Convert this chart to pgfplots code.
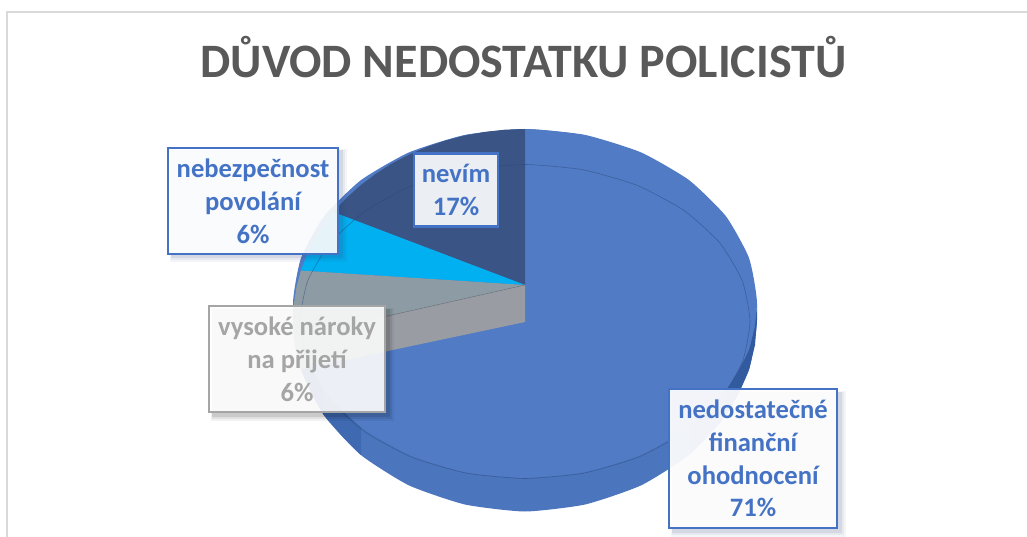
\documentclass[border=0pt]{standalone}
\usepackage{fontspec}
\setmainfont{Carlito}
\usepackage{pgfplots}
\pgfplotsset{compat=1.18}
\definecolor{frameC}{HTML}{D9D9D9}
\definecolor{titleC}{HTML}{595959}
\definecolor{faceC}{HTML}{517BC5}
\definecolor{wallM}{HTML}{4B75BD}
\definecolor{wallN}{HTML}{3F69B0}
\definecolor{wallD}{HTML}{325A9E}
\definecolor{lineC}{HTML}{3A62A8}
\definecolor{darkC}{HTML}{3A5585}
\definecolor{cyanC}{HTML}{00B0F0}
\definecolor{greyT}{HTML}{8D9CA4}
\definecolor{greyW}{HTML}{999CA3}
\definecolor{lblB}{HTML}{4472C4}
\definecolor{lblG}{HTML}{A5A5A5}
\newcommand{\lblfont}{\fontsize{26.6}{32.8}\selectfont\bfseries}
\newcommand{\softshadow}[5]{%
  \fill[#5,opacity=.05] (axis cs:#1+2,#2+2) rectangle (axis cs:#3+9,#4+9);
  \fill[#5,opacity=.07] (axis cs:#1+3,#2+3) rectangle (axis cs:#3+7,#4+7);
  \fill[#5,opacity=.10] (axis cs:#1+3,#2+3) rectangle (axis cs:#3+5,#4+5);
}
\begin{document}
\begin{tikzpicture}
\useasboundingbox (0,0) rectangle (1027pt,537pt);
\begin{axis}[
  at={(0,0)}, anchor=south west,
  scale only axis, width=1027pt, height=537pt,
  xmin=0, xmax=1027, ymin=0, ymax=537, y dir=reverse,
  hide axis, no markers]
% frame
\addplot[frameC, line width=2pt] coordinates {(7,537)(7,12)(1027,12)};
% pie body: outer outline with the side wall
\addplot[draw=none, fill=wallM, smooth cycle, tension=.34] coordinates {
 (757,320)(749.1,270.6)(725.9,224.5)(689,184.9)(641,154.6)(585,135.5)(525,129)(465,135.5)(409,154.6)(361,184.9)(324.1,224.5)(300.9,270.6)(293,320)
 (300.9,369.4)(324.1,415.5)(361,455.1)(409,485.4)(465,504.5)(525,511.5)(585,504.5)(641,485.4)(689,455.1)(725.9,415.5)(749.1,369.4)};
% darker ends of the wall
\addplot[draw=none, fill=wallN] coordinates {(689,455.1)(708,436)(725.9,415.5)(725.9,390.75)(708,410)(689,426.9)(689,455.1)};
\addplot[draw=none, fill=wallD] coordinates {(725.9,415.5)(739,393)(749.1,369.4)(755,345)(757,320)(757,303.5)(755,327)(749.1,348.7)(739,370)(725.9,390.75)(725.9,415.5)};
\addplot[draw=none, fill=wallN] coordinates {(361,455.1)(342,436)(324.1,415.5)(324.1,390.75)(342,410)(361,426.9)(361,455.1)};
\addplot[draw=none, fill=wallD] coordinates {(324.1,415.5)(311,393)(300.9,369.4)(295,345)(293,320)(293,303.5)(295,327)(300.9,348.7)(311,370)(324.1,390.75)(324.1,415.5)};
% top face (71 %)
\addplot[draw=none, fill=faceC, smooth cycle, tension=.34] coordinates {
 (757,303.5)(749.1,258.3)(725.9,216.25)(689,180.1)(641,152.4)(585,134.9)(525,129)(465,134.9)(409,152.4)(361,180.1)(324.1,216.25)(300.9,258.3)(293,303.5)
 (300.9,348.7)(324.1,390.75)(361,426.9)(409,454.6)(465,472.1)(525,478)(585,472.1)(641,454.6)(689,426.9)(725.9,390.75)(749.1,348.7)};
% nevim 17 %
\addplot[draw=none, fill=darkC] coordinates {(525,285)(525,129)(504.8,129.7)(484.7,131.9)(465,135.5)(445.7,140.5)(427,146.9)(409,154.6)(391.9,163.5)(375.9,173.7)(361,184.9)(347.3,197.2)(334.9,210.4)(333,212)(525,285)};
% nebezpecnost povolani 6 %
\addplot[draw=none, fill=cyanC] coordinates {(525,285)(333,212)(324.1,224.5)(314.7,239.3)(307,254.7)(300.9,270.6)(525,285)};
% vysoke naroky na prijeti 6 %: wall, then top
\addplot[draw=none, fill=greyW] coordinates {(525,285)(294,337)(296.5,353.2)(300.9,369.4)(525,322)(525,285)};
\addplot[draw=none, fill=greyT] coordinates {(525,285)(300.9,270.6)(296.5,286.8)(293.9,303.3)(293,320)(293.9,336.6)(383,317)(525,285)};
\addplot[greyW!75!black, line width=.5pt] coordinates {(525,285)(383,317)};
% thin rim line
\addplot[lineC!70!black, opacity=.5, line width=.6pt, smooth cycle, tension=.34] coordinates {
 (750,321.5)(742.3,280.9)(719.9,243)(684.1,210.5)(637.5,185.5)(583.2,169.8)(525,164.5)(466.8,169.8)(412.5,185.5)(365.9,210.5)(330.1,243)(307.7,280.9)(300,321.5)
 (307.7,362.1)(330.1,400)(365.9,432.5)(412.5,457.5)(466.8,473.2)(525,478.5)(583.2,473.2)(637.5,457.5)(684.1,432.5)(719.9,400)(742.3,362.1)};
% title
\node[anchor=base, text=titleC, font=\fontsize{48}{50}\selectfont\bfseries, inner sep=0pt] at (axis cs:523.5,78) {DŮVOD NEDOSTATKU POLICISTŮ};
% shadows
\softshadow{168}{147}{338}{253}{black!40!lblB}
\softshadow{209}{306}{385}{412}{black}
\softshadow{669}{389}{837}{528}{black!40!lblB}
% labels
\node[draw=lblB, line width=2.6pt, fill=white, fill opacity=.9, text opacity=1, text=lblB, font=\lblfont, align=center, inner sep=0pt, minimum width=170pt, minimum height=106pt] at (axis cs:253,201) {nebezpečnost\\povolání\\6\%};
\node[draw=lblB, line width=2.6pt, fill=white, fill opacity=.9, text opacity=1, text=lblB, font=\lblfont, align=center, inner sep=0pt, minimum width=84pt, minimum height=73pt] at (axis cs:456,190) {nevím\\17\%};
\node[draw=lblG, line width=2.6pt, fill=white, fill opacity=.9, text opacity=1, text=lblG, font=\lblfont, align=center, inner sep=0pt, minimum width=176pt, minimum height=106pt] at (axis cs:297,359) {vysoké nároky\\na přijetí\\6\%};
\node[draw=lblB, line width=2.6pt, fill=white, fill opacity=.93, text opacity=1, text=lblB, font=\lblfont, align=center, inner sep=0pt, minimum width=168pt, minimum height=139pt] at (axis cs:753,458.5) {nedostatečné\\finanční\\ohodnocení\\71\%};
\end{axis}
\end{tikzpicture}
\end{document}
